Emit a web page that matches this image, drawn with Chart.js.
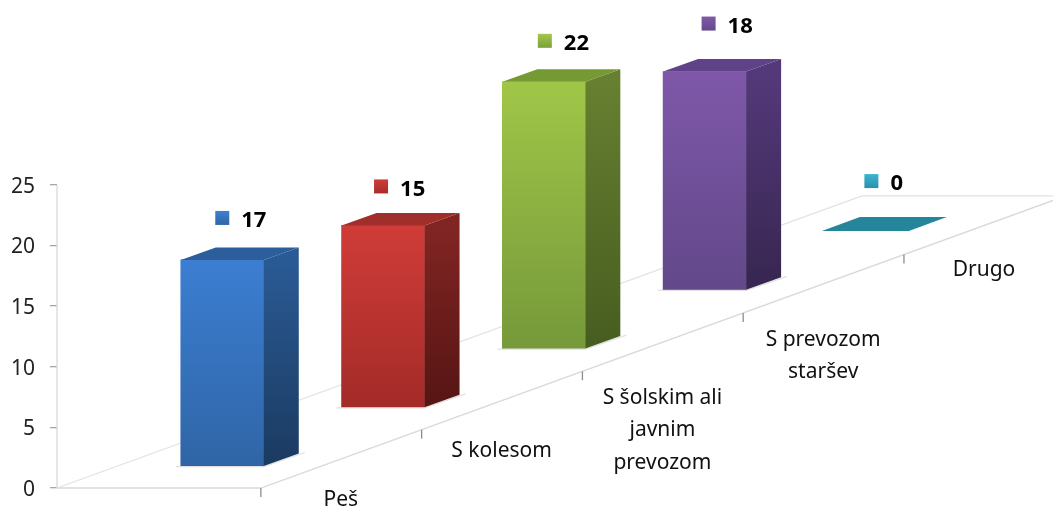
<!DOCTYPE html>
<html><head><meta charset="utf-8">
<style>html,body{margin:0;padding:0;background:#fff}canvas{display:block}</style>
<script src="https://cdn.jsdelivr.net/npm/chart.js@4"></script>
</head><body>
<canvas id="c" width="1053" height="509"></canvas>
<script>
const categories = ['Peš','S kolesom','S šolskim ali javnim prevozom','S prevozom staršev','Drugo'];
const categoryLines = [['Peš'],['S kolesom'],['S šolskim ali','javnim','prevozom'],['S prevozom','staršev'],['Drugo']];
const values = [17,15,22,18,0];
const yTickValues = [0,5,10,15,20,25];

// styling and layout, separate from the data
const frontTop = ['#3c7ed2','#d03c38','#a0c648','#7f58a9','#24859b'];
const frontBot = ['#2f65a6','#a32b28','#76993a','#62488a','#24859b'];
const sideTop  = ['#2a5a94','#812523','#667f30','#54397a','#24859b'];
const sideBot  = ['#1b3a60','#561514','#475d20','#372650','#24859b'];
const topFace  = ['#2b5e9a','#a02f2c','#769a33','#5f4287','#24859b'];
const markA    = ['#3f80cf','#cf3c38','#a2c84c','#8058a8','#3cb4d2'];
const markB    = ['#2e66a8','#a82c2a','#7c9e3a','#654a8c','#2a8fae'];
const FLOOR_BASE = 1.81, FLOOR_STEP = 4.845;
const labelDy = [12,21,59,43,15];
const markerDx = [0,-2,1,4,6];
const markerDy = [-42,-39,-41,-48,-50];
const FONT = '"Noto Sans", sans-serif';
const DEPTH_X = 35, DEPTH_Y = 12.5, SLOPE = 0.363;

const lift = i => FLOOR_BASE + i*FLOOR_STEP;

function vGrad(ctx,y0,y1,a,b){
  if(!Number.isFinite(y0)||!Number.isFinite(y1)) return a;
  const g=ctx.createLinearGradient(0,y0,0,y1);g.addColorStop(0,a);g.addColorStop(1,b);return g;
}

const scene = {
  id:'scene',
  beforeDatasetsDraw(chart){
    const {ctx,scales:{x,y}} = chart, y0=y.getPixelForValue(0), y25=y.getPixelForValue(25), ax=x.left;
    ctx.save();
    ctx.strokeStyle='#d9d9d9';ctx.lineWidth=1.3;
    // value axis
    ctx.beginPath();ctx.moveTo(ax,y25);ctx.lineTo(ax,y0);ctx.stroke();
    // floor outline
    const fx=x.getPixelForValue(0.24), backX=862, backY=y0-(backX-ax)*SLOPE;
    ctx.beginPath();ctx.moveTo(ax,y0);ctx.lineTo(fx,y0);
    ctx.lineTo(chart.width,y0-(chart.width-fx)*SLOPE);ctx.stroke();
    ctx.strokeStyle='#e2e2e2';
    ctx.beginPath();ctx.moveTo(ax,y0);ctx.lineTo(backX,backY);ctx.lineTo(chart.width,backY);ctx.stroke();
    // category ticks and labels
    ctx.textAlign='center';ctx.textBaseline='middle';
    categoryLines.forEach((lines,i)=>{
      const tx=x.getPixelForValue(i+0.24), ty=y0-(tx-fx)*SLOPE;
      ctx.strokeStyle='#8c8c8c';ctx.lineWidth=1.3;
      ctx.beginPath();ctx.moveTo(tx,ty);ctx.lineTo(tx,ty+9);ctx.stroke();
      ctx.fillStyle='#111';ctx.font='21px '+FONT;
      const cy=ty+labelDy[i];
      lines.forEach((t,k)=>ctx.fillText(t,tx+80,cy+(k-(lines.length-1)/2)*32.5));
    });
    ctx.restore();
  },
  afterDatasetsDraw(chart){
    const {ctx} = chart, meta=chart.getDatasetMeta(0);
    ctx.save();
    meta.data.forEach((b,i)=>{
      const flat = values[i]===0, pad = flat ? 2 : 0, extra = flat ? 3 : 0;
      const L=b.x-b.width/2-pad, R=b.x+b.width/2+pad, T=b.y, B=b.base;
      // contact shadow on the floor
      if(!flat){
        ctx.strokeStyle='#e0e0e0';ctx.lineWidth=1.2;
        ctx.beginPath();ctx.moveTo(L-5,B+0.5);ctx.lineTo(R,B+0.5);ctx.lineTo(R+DEPTH_X+6,B-DEPTH_Y-1);ctx.stroke();
        ctx.fillStyle=vGrad(ctx,T,B,sideTop[i],sideBot[i]);
        ctx.beginPath();ctx.moveTo(R,T);ctx.lineTo(R+DEPTH_X,T-DEPTH_Y);ctx.lineTo(R+DEPTH_X,B-DEPTH_Y);ctx.lineTo(R,B);ctx.closePath();ctx.fill();
      }
      ctx.fillStyle=topFace[i];
      const dx=DEPTH_X+extra, dy=DEPTH_Y+extra/2;
      ctx.beginPath();ctx.moveTo(L,T);ctx.lineTo(L+dx,T-dy);ctx.lineTo(R+dx,T-dy);ctx.lineTo(R,T);ctx.closePath();ctx.fill();
      // value label with square marker
      const mx=b.x+markerDx[i], my=T+markerDy[i];
      ctx.fillStyle=vGrad(ctx,my-7,my+7,markA[i],markB[i]);
      ctx.fillRect(mx-7,my-7,14,14);
      ctx.fillStyle='#000';ctx.font='bold 22px '+FONT;ctx.textAlign='left';ctx.textBaseline='middle';
      ctx.fillText(String(values[i]),mx+19,my+3);
    });
    ctx.restore();
  }
};

new Chart(document.getElementById('c'),{
  type:'bar',
  data:{labels:categories,datasets:[{
    label:'Prihod v šolo',
    data:values.map((v,i)=>({x:i,y:[lift(i),lift(i)+v]})),
    barThickness:83,
    borderWidth:0,
    backgroundColor(c){
      const i=c.dataIndex,{y}=c.chart.scales;
      if(!y||i===undefined) return frontTop[0];
      return vGrad(c.chart.ctx,y.getPixelForValue(lift(i)+values[i]),y.getPixelForValue(lift(i)),frontTop[i],frontBot[i]);
    }
  }]},
  plugins:[scene],
  options:{
    responsive:false,animation:false,devicePixelRatio:1,
    layout:{padding:{top:3,bottom:21,left:0,right:0}},
    plugins:{legend:{display:false},title:{display:false},tooltip:{enabled:false}},
    scales:{
      x:{type:'linear',min:-1.028,max:5.167,display:false,offset:false},
      y:{min:0,max:40,
        afterBuildTicks(s){s.ticks=yTickValues.map(v=>({value:v}));},
        afterFit(s){s.width=57;s.paddingTop=0;s.paddingBottom=0;},
        border:{display:false},
        grid:{drawOnChartArea:false,drawTicks:true,tickLength:7,color:'#a6a6a6',lineWidth:1.3},
        ticks:{padding:15,labelOffset:2,color:'#222',font:{family:FONT,size:21},autoSkip:false,callback:v=>String(v)}
      }
    }
  }
});
</script>
</body></html>
